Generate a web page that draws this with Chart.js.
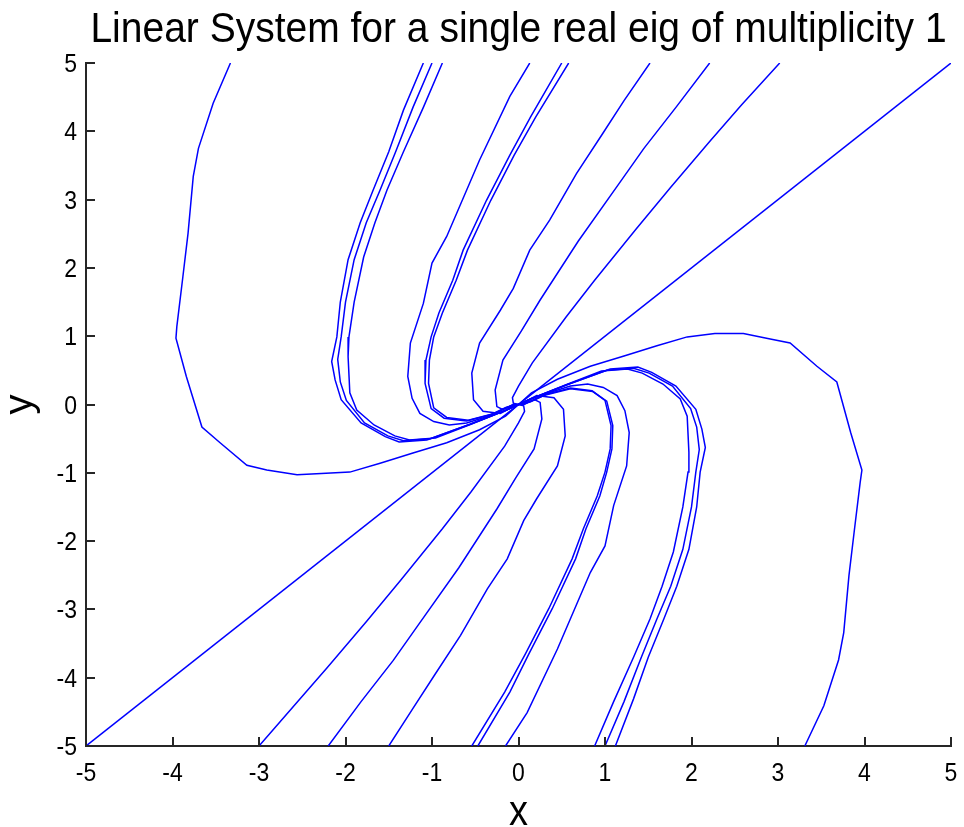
<!DOCTYPE html>
<html>
<head>
<meta charset="utf-8">
<script src="https://cdn.jsdelivr.net/npm/chart.js@4.4.1/dist/chart.umd.min.js"></script>
<style>
  html, body { margin: 0; padding: 0; background: #fff; }
  #wrap { width: 964px; height: 827px; }
</style>
</head>
<body>
<div id="wrap"><canvas id="c" width="964" height="827"></canvas></div>
<script>
// ---- data (x, y pairs) ----
const titleText = 'Linear System for a single real eig of multiplicity 1';
const xLabel = 'x';
const yLabel = 'y';
const xTicks = [-5, -4, -3, -2, -1, 0, 1, 2, 3, 4, 5];
const yTicks = [-5, -4, -3, -2, -1, 0, 1, 2, 3, 4, 5];

// straight trajectory along the eigenvector
const eigLine = [[-5, -5], [5, 5]];

// trajectories entering from the top edge
const top1 = [[-3.33,5.0],[-3.53,4.41],[-3.70,3.75],[-3.76,3.34],[-3.82,2.51],[-3.88,1.87],[-3.95,1.14],[-3.96,0.97],[-3.84,0.41],[-3.66,-0.33],[-3.45,-0.56],[-3.14,-0.89],[-2.91,-0.96],[-2.56,-1.03],[-2.28,-1.01],[-1.95,-0.99],[-1.60,-0.86],[-1.22,-0.71],[-0.83,-0.56],[-0.45,-0.37],[-0.15,-0.17],[0,0]];
const top2 = [[-1.10,5.0],[-1.33,4.31],[-1.50,3.70],[-1.68,3.14],[-1.83,2.66],[-1.97,2.12],[-2.06,1.50],[-2.10,0.99],[-2.16,0.63],[-2.12,0.36],[-2.05,0.07],[-1.82,-0.27],[-1.54,-0.47],[-1.38,-0.55],[-1.06,-0.52],[-0.56,-0.29],[-0.14,-0.08],[0,0]];
const top3 = [[-1.00,5.0],[-1.22,4.35],[-1.42,3.70],[-1.60,3.14],[-1.76,2.66],[-1.90,2.12],[-2.00,1.50],[-2.05,0.99],[-2.09,0.66],[-2.06,0.33],[-1.99,0.06],[-1.78,-0.27],[-1.51,-0.46],[-1.33,-0.53],[-1.02,-0.50],[-0.56,-0.29],[-0.14,-0.08],[0,0]];
const top4 = [[-0.88,5.0],[-1.10,4.35],[-1.33,3.70],[-1.52,3.14],[-1.66,2.66],[-1.79,2.16],[-1.90,1.50],[-1.96,0.99],[-1.97,0.70],[-1.95,0.17],[-1.87,-0.08],[-1.67,-0.30],[-1.43,-0.46],[-1.26,-0.52],[-0.96,-0.49],[-0.55,-0.29],[-0.14,-0.08],[0,0]];
const top5 = [[0.13,5.0],[-0.10,4.51],[-0.45,3.58],[-0.83,2.46],[-1.00,2.07],[-1.10,1.48],[-1.25,0.90],[-1.28,0.41],[-1.23,0.09],[-1.14,-0.13],[-0.98,-0.25],[-0.80,-0.30],[-0.60,-0.27],[-0.37,-0.18],[-0.14,-0.04],[0,0]];
const top6 = [[0.50,5.0],[0.14,4.21],[-0.10,3.65],[-0.37,2.99],[-0.64,2.26],[-0.76,1.82],[-0.92,1.34],[-1.01,0.99],[-1.07,0.65],[-1.08,0.31],[-1.01,-0.06],[-0.86,-0.20],[-0.60,-0.24],[-0.29,-0.14],[-0.06,0.0],[0,0]];
const top7 = [[0.58,5.0],[0.20,4.21],[-0.05,3.65],[-0.32,2.99],[-0.59,2.26],[-0.72,1.82],[-0.88,1.34],[-0.98,0.99],[-1.03,0.65],[-1.04,0.31],[-0.98,-0.05],[-0.83,-0.19],[-0.58,-0.23],[-0.28,-0.13],[-0.06,0.0],[0,0]];
const top8 = [[1.52,5.0],[1.22,4.45],[0.97,3.96],[0.67,3.38],[0.36,2.70],[0.13,2.26],[-0.06,1.70],[-0.21,1.38],[-0.45,0.90],[-0.54,0.46],[-0.52,0.07],[-0.41,-0.10],[-0.21,-0.13],[-0.06,-0.03],[0,0]];
const top9 = [[2.21,5.0],[1.82,4.35],[1.45,3.75],[1.16,3.23],[0.69,2.39],[0.25,1.53],[0.03,1.07],[-0.18,0.65],[-0.27,0.21],[-0.25,-0.03],[-0.19,-0.07],[0,0]];
const top10 = [[3.02,5.0],[2.58,4.39],[2.21,3.85],[1.76,3.18],[1.36,2.57],[0.88,1.82],[0.55,1.28],[0.16,0.61],[0.0,0.27],[-0.07,0.10],[-0.06,0.02],[0,0]];

// trajectories entering from the bottom edge
const bot1 = [[3.31,-5.0],[3.53,-4.41],[3.70,-3.74],[3.76,-3.34],[3.82,-2.51],[3.88,-1.87],[3.95,-1.14],[3.97,-0.96],[3.84,-0.41],[3.68,0.33],[3.45,0.56],[3.14,0.90],[2.91,0.96],[2.60,1.04],[2.27,1.04],[1.95,0.99],[1.60,0.86],[1.22,0.71],[0.83,0.56],[0.45,0.37],[0.15,0.17],[0,0]];
const bot2 = [[1.12,-5.0],[1.33,-4.31],[1.50,-3.70],[1.68,-3.14],[1.83,-2.66],[1.97,-2.12],[2.06,-1.50],[2.10,-0.99],[2.16,-0.63],[2.12,-0.36],[2.05,-0.07],[1.82,0.27],[1.54,0.47],[1.38,0.55],[1.06,0.52],[0.56,0.29],[0.14,0.08],[0,0]];
const bot3 = [[1.00,-5.0],[1.22,-4.35],[1.42,-3.70],[1.60,-3.14],[1.76,-2.66],[1.90,-2.12],[2.00,-1.50],[2.05,-0.99],[2.09,-0.66],[2.06,-0.33],[1.99,-0.06],[1.78,0.27],[1.51,0.46],[1.33,0.53],[1.02,0.50],[0.56,0.29],[0.14,0.08],[0,0]];
const bot4 = [[0.88,-5.0],[1.10,-4.35],[1.33,-3.70],[1.52,-3.14],[1.66,-2.66],[1.79,-2.16],[1.90,-1.50],[1.96,-0.99],[1.97,-0.70],[1.95,-0.17],[1.87,0.08],[1.67,0.30],[1.43,0.46],[1.26,0.52],[0.96,0.49],[0.55,0.29],[0.14,0.08],[0,0]];
const bot5 = [[-0.15,-5.0],[0.10,-4.51],[0.45,-3.58],[0.83,-2.46],[1.00,-2.07],[1.10,-1.48],[1.25,-0.90],[1.28,-0.41],[1.23,-0.09],[1.14,0.13],[0.98,0.25],[0.80,0.30],[0.60,0.27],[0.37,0.18],[0.14,0.04],[0,0]];
const bot6 = [[-0.54,-5.0],[-0.16,-4.21],[0.08,-3.65],[0.35,-2.99],[0.62,-2.26],[0.75,-1.82],[0.91,-1.34],[1.00,-0.99],[1.06,-0.65],[1.07,-0.31],[1.00,0.06],[0.85,0.20],[0.60,0.24],[0.29,0.14],[0.06,0.0],[0,0]];
const bot7 = [[-0.47,-5.0],[-0.10,-4.21],[0.12,-3.65],[0.39,-2.99],[0.66,-2.26],[0.78,-1.82],[0.94,-1.34],[1.02,-0.99],[1.08,-0.65],[1.09,-0.31],[1.02,0.05],[0.86,0.19],[0.60,0.23],[0.29,0.13],[0.06,0.0],[0,0]];
const bot8 = [[-1.50,-5.0],[-1.22,-4.45],[-0.97,-3.96],[-0.67,-3.38],[-0.36,-2.70],[-0.13,-2.26],[0.06,-1.70],[0.21,-1.38],[0.45,-0.90],[0.54,-0.46],[0.52,-0.07],[0.41,0.10],[0.21,0.13],[0.06,0.03],[0,0]];
const bot9 = [[-2.20,-5.0],[-1.82,-4.35],[-1.45,-3.75],[-1.16,-3.23],[-0.69,-2.39],[-0.25,-1.53],[-0.03,-1.07],[0.18,-0.65],[0.27,-0.21],[0.25,0.03],[0.19,0.07],[0,0]];
const bot10 = [[-3.00,-5.0],[-2.58,-4.39],[-2.21,-3.85],[-1.76,-3.18],[-1.36,-2.57],[-0.88,-1.82],[-0.55,-1.28],[-0.16,-0.61],[0.0,-0.27],[0.07,-0.10],[0.06,-0.02],[0,0]];

const trajectories = [eigLine, top1, top2, top3, top4, top5, top6, top7, top8, top9, top10,
                      bot1, bot2, bot3, bot4, bot5, bot6, bot7, bot8, bot9, bot10];

// ---- chart ----
const FONT = "'Liberation Sans', Arial, Helvetica, sans-serif";
const AXIS_COLOR = '#262626';
const STRETCH = 1.1; // text in the picture is slightly taller than wide

function stretchedText(ctx, text, x, y, size, align) {
  ctx.save();
  ctx.font = size + 'px ' + FONT;
  ctx.textAlign = align;
  ctx.textBaseline = 'alphabetic';
  ctx.translate(x, y);
  ctx.scale(1, STRETCH);
  ctx.fillText(text, 0, 0);
  ctx.restore();
}

const matlabAxes = {
  id: 'matlabAxes',
  afterDraw(chart) {
    const { ctx, chartArea, scales } = chart;
    const sx = scales.x, sy = scales.y;
    ctx.save();
    // inward tick marks
    ctx.strokeStyle = AXIS_COLOR;
    ctx.lineWidth = 2;
    xTicks.forEach(v => {
      const px = Math.round(sx.getPixelForValue(v));
      ctx.beginPath();
      ctx.moveTo(px, chartArea.bottom);
      ctx.lineTo(px, chartArea.bottom - 9);
      ctx.stroke();
    });
    yTicks.forEach(v => {
      const py = Math.round(sy.getPixelForValue(v));
      ctx.beginPath();
      ctx.moveTo(chartArea.left, py);
      ctx.lineTo(chartArea.left + 9, py);
      ctx.stroke();
    });
    // tick labels
    ctx.fillStyle = '#000';
    xTicks.forEach(v => {
      stretchedText(ctx, String(v), sx.getPixelForValue(v), chartArea.bottom + 35, 23, 'center');
    });
    yTicks.forEach(v => {
      stretchedText(ctx, String(v), chartArea.left - 9, sy.getPixelForValue(v) + 9, 23, 'right');
    });
    // title and axis labels
    const cx = (chartArea.left + chartArea.right) / 2;
    stretchedText(ctx, titleText, cx, 42, 39, 'center');
    stretchedText(ctx, xLabel, cx, 825, 38, 'center');
    ctx.save();
    ctx.font = '40px ' + FONT;
    ctx.textAlign = 'center';
    ctx.textBaseline = 'alphabetic';
    ctx.translate(32, (chartArea.top + chartArea.bottom) / 2);
    ctx.rotate(-Math.PI / 2);
    ctx.fillText(yLabel, 0, 0);
    ctx.restore();
    ctx.restore();
  }
};

new Chart(document.getElementById('c'), {
  type: 'scatter',
  data: {
    datasets: trajectories.map(t => ({
      data: t.map(p => ({ x: p[0], y: p[1] })),
      showLine: true,
      pointRadius: 0,
      borderColor: '#0000ff',
      borderWidth: 1.5,
      tension: 0,
      fill: false
    }))
  },
  options: {
    responsive: false,
    animation: false,
    layout: { padding: { top: 63, right: 13, bottom: 0, left: 0 } },
    plugins: {
      legend: { display: false },
      tooltip: { enabled: false },
      title: { display: false }
    },
    scales: {
      x: {
        type: 'linear', min: -5, max: 5,
        afterBuildTicks: s => { s.ticks = xTicks.map(v => ({ value: v })); },
        afterFit: s => { s.height = 81; },
        ticks: { display: false },
        grid: { display: true, drawOnChartArea: false, drawTicks: false },
        border: { display: true, color: AXIS_COLOR, width: 2 }
      },
      y: {
        type: 'linear', min: -5, max: 5,
        afterBuildTicks: s => { s.ticks = yTicks.map(v => ({ value: v })); },
        afterFit: s => { s.width = 86; },
        ticks: { display: false },
        grid: { display: true, drawOnChartArea: false, drawTicks: false },
        border: { display: true, color: AXIS_COLOR, width: 2 }
      }
    }
  },
  plugins: [matlabAxes]
});
</script>
</body>
</html>
